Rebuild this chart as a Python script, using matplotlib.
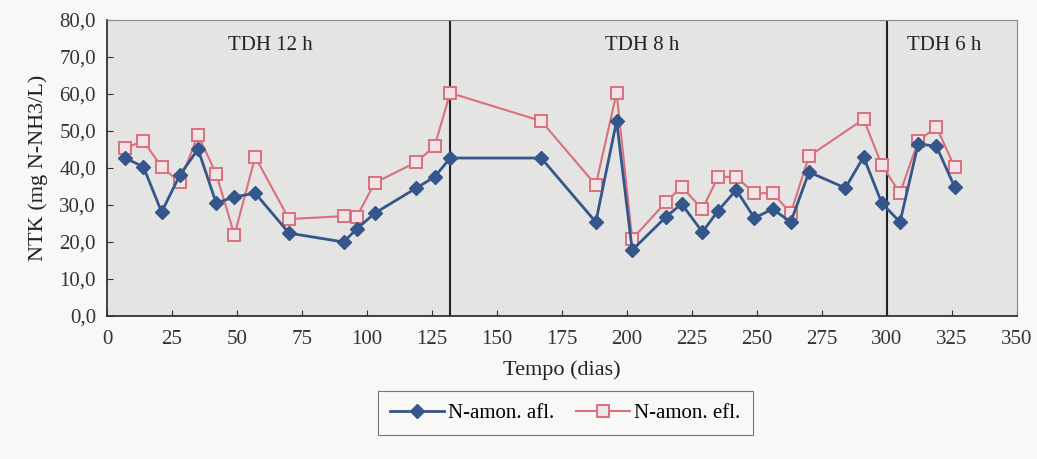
import numpy as np
import matplotlib.pyplot as plt
from matplotlib.ticker import FuncFormatter

plt.rcParams['font.family'] = ['Liberation Serif', 'DejaVu Serif']

# sampling days (dias)
dias = [7, 14, 21, 28, 35, 42, 49, 57, 70, 91, 96, 103, 119, 126, 132,
        167, 188, 196, 202, 215, 221, 229, 235, 242, 249, 256, 263, 270,
        284, 291, 298, 305, 312, 319, 326]

# ammonia nitrogen, influent (mg N-NH3/L)
n_amon_afl = [42.7, 40.3, 28.1, 38.1, 45.1, 30.5, 32.2, 33.2, 22.4, 20.0,
              23.5, 27.8, 34.6, 37.6, 42.7, 42.7, 25.4, 52.7, 17.8, 26.8,
              30.3, 22.7, 28.4, 34.1, 26.5, 28.9, 25.4, 38.9, 34.6, 43.0,
              30.5, 25.4, 46.5, 45.9, 34.9]

# ammonia nitrogen, effluent (no sample on day 284)
n_amon_efl = [45.4, 47.3, 40.3, 36.2, 48.9, 38.4, 21.9, 43.0, 26.2, 27.0,
              26.8, 36.0, 41.6, 45.9, 60.3, 52.7, 35.4, 60.3, 20.8, 30.8,
              34.9, 28.9, 37.6, 37.6, 33.2, 33.2, 27.8, 43.2, np.nan, 53.2,
              40.8, 33.2, 47.3, 51.1, 40.3]

fases = ['TDH 12 h', 'TDH 8 h', 'TDH 6 h']
fase_x = [63, 206, 322]
limites = [132, 300]

blue = '#35568a'
red = '#d9707c'

fig = plt.figure(figsize=(10.37, 4.59), dpi=100, facecolor='#f8f8f6')
ax = fig.add_axes([0.1032, 0.3115, 0.8775, 0.6449])
ax.set_facecolor('#e4e4e2')

x = np.array(dias)
ya = np.array(n_amon_afl)
ye = np.array(n_amon_efl)
ok = np.isfinite(ye)

ax.plot(x, ya, color=blue, lw=2.0, marker='D', ms=7.5, mfc=blue, mec=blue,
        label='N-amon. afl.', zorder=4)
ax.plot(x[ok], ye[ok], color=red, lw=1.5, marker='s', ms=9, mfc='#f2e4e6',
        mec=red, mew=1.4, label='N-amon. efl.', zorder=3)

for lim in limites:
    ax.axvline(lim, color='#222222', lw=1.5, zorder=2)

for t, xp in zip(fases, fase_x):
    ax.text(xp, 73.2, t, ha='center', va='center', fontsize=15, color='#222222')

ax.set_xlim(0, 350)
ax.set_ylim(0, 80)
ax.set_xticks(np.arange(0, 351, 25))
ax.set_yticks(np.arange(0, 81, 10))
ax.yaxis.set_major_formatter(FuncFormatter(lambda v, p: f'{v:.1f}'.replace('.', ',')))
ax.tick_params(direction='in', labelsize=15, colors='#333333', length=4)
ax.tick_params(axis='x', pad=10)
ax.tick_params(axis='y', pad=8)

for s in ['left', 'bottom']:
    ax.spines[s].set_color('#333333')
    ax.spines[s].set_linewidth(1.3)
for s in ['top', 'right']:
    ax.spines[s].set_color('#888888')
    ax.spines[s].set_linewidth(0.8)

ax.set_xlabel('Tempo (dias)', fontsize=16, color='#222222', labelpad=8)
ax.set_ylabel('NTK (mg N-NH3/L)', fontsize=16, color='#222222', labelpad=8)

handles, labels = ax.get_legend_handles_labels()
leg = fig.legend(handles, labels, loc='center', bbox_to_anchor=(0.545, 0.10),
                 ncol=2, fontsize=15, frameon=True, fancybox=False,
                 handlelength=2.6, columnspacing=1.0, handletextpad=0.2,
                 borderpad=0.6)
leg.get_frame().set_edgecolor('#555555')
leg.get_frame().set_facecolor('#f8f8f6')
leg.get_frame().set_linewidth(0.8)

fig.savefig('out.png', dpi=100, facecolor=fig.get_facecolor())
